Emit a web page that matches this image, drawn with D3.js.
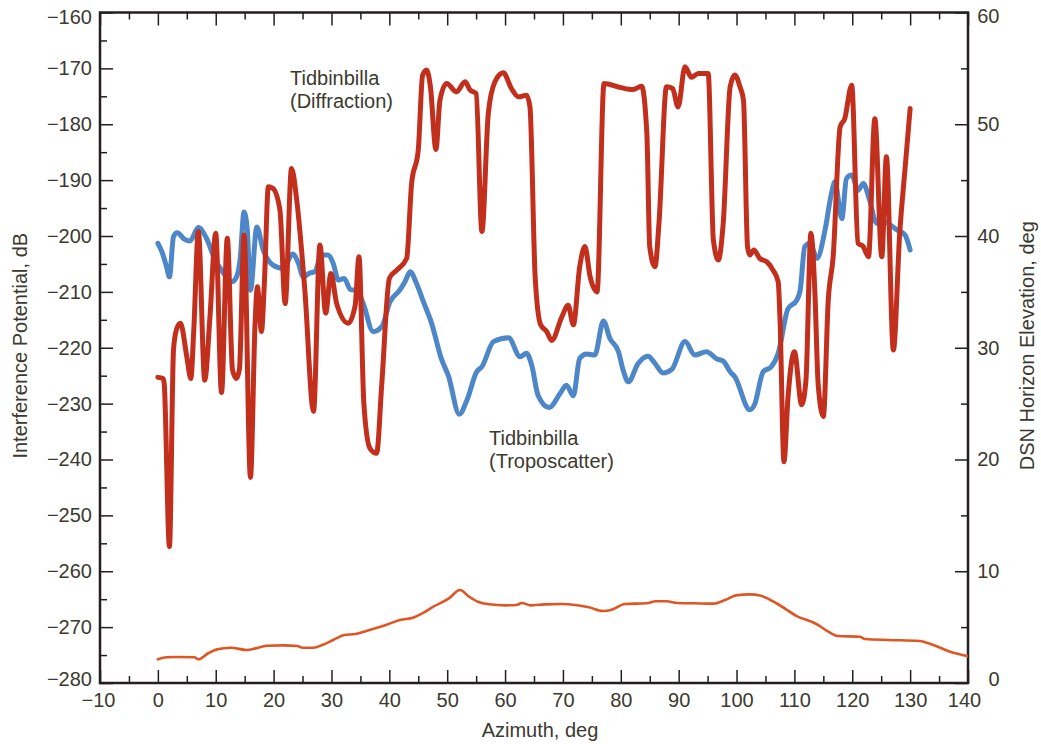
<!DOCTYPE html>
<html>
<head>
<meta charset="utf-8">
<script src="https://cdn.jsdelivr.net/npm/d3@7/dist/d3.min.js"></script>
<style>
  html, body { margin: 0; padding: 0; background: #ffffff; }
  svg { display: block; }
  text { font-family: "Liberation Sans", Arial, Helvetica, sans-serif; fill: #3b3a2f; }
</style>
</head>
<body>
<svg id="chart" width="1041" height="744"></svg>
<script>
// ---------- DATA ----------
const leftTicks = [-160, -170, -180, -190, -200, -210, -220, -230, -240, -250, -260, -270, -280];
const rightTicks = [0, 10, 20, 30, 40, 50, 60];
const bottomTicks = [-10, 0, 10, 20, 30, 40, 50, 60, 70, 80, 90, 100, 110, 120, 130, 140];

// Tidbinbilla (Diffraction) — azimuth (deg) / interference potential (dB)
const diffAz = [0, 0.9, 1.1, 2.0, 2.7, 3.2, 3.9, 5.0, 5.7, 6.2, 7.0, 8.1, 9.0, 10.0, 11.0, 12.0, 12.9, 13.6, 14.1, 14.9,
  16.0, 16.8, 17.2, 17.9, 18.4, 19.1, 19.9, 21.1, 22.0, 23.1, 24.0, 25.4, 26.9, 28.0, 29.0, 29.9, 30.9, 32.9, 34.1, 34.75,
  35.6, 36.65, 37.8, 38.7, 40.0, 41.3, 43.0, 43.85, 45.0, 45.75, 46.45, 47.1, 48.05, 48.75, 49.9, 51.6, 53.1, 53.9, 55.0, 56.0,
  57.1, 58.25, 59.7, 61.1, 62.3, 63.7, 64.3, 65.2, 66.15, 67.2, 68.05, 69.8, 70.9, 71.8, 72.9, 73.8, 74.7, 75.9, 77.1, 79.85,
  82.1, 83.6, 84.5, 85.0, 85.9, 86.6, 87.9, 88.95, 89.9, 91.1, 92.2, 93.4, 95.1, 96.0, 96.85, 97.7, 98.9, 99.7, 100.6, 101.2,
  101.9, 102.3, 103.0, 104.0, 105.2, 106.3, 107.2, 107.5, 108.2, 108.9, 110.0, 111.25, 112.0, 112.85, 113.55, 114.1, 115.0, 115.85, 116.7, 117.9,
  118.7, 119.9, 121.0, 121.9, 122.8, 123.9, 125.1, 125.9, 127.1, 128.2, 129.1, 130.0];
const diffDb = [-225.3, -225.5, -226.5, -255.6, -220.4, -216.8, -215.6, -221.6, -225.5, -217.0, -199.2, -225.8, -214.5, -199.5, -228.0, -200.4, -224.0, -225.5, -223.8, -199.8,
  -243.2, -215.6, -209.1, -217.1, -208.5, -191.2, -191.5, -195.4, -212.1, -187.9, -193.6, -209.7, -231.4, -201.6, -213.8, -206.7, -212.1, -215.6, -212.4, -203.7,
  -230.0, -238.0, -238.9, -226.4, -207.6, -206.1, -204.0, -190.6, -184.6, -171.2, -170.3, -173.3, -184.5, -175.7, -172.7, -174.2, -172.4, -173.8, -174.5, -199.2,
  -178.1, -172.4, -170.8, -173.6, -175.1, -174.8, -176.9, -207.3, -215.9, -217.1, -218.7, -214.5, -212.4, -215.9, -205.5, -201.9, -207.3, -210.0, -172.7, -173.4,
  -173.8, -173.2, -181.6, -201.9, -205.5, -197.7, -173.3, -173.6, -176.9, -169.7, -171.6, -170.9, -170.9, -200.7, -204.3, -197.7, -173.3, -171.2, -173.3, -175.7,
  -201.9, -203.4, -202.5, -204.0, -204.6, -206.1, -208.2, -214.5, -240.4, -228.8, -220.7, -230.2, -225.8, -199.5, -210.3, -226.4, -232.3, -211.5, -203.7, -180.5,
  -179.0, -173.0, -201.3, -201.9, -203.7, -179.0, -203.7, -185.8, -220.4, -199.5, -188.2, -177.2];

// Tidbinbilla (Troposcatter)
const tropoAz = [0, 0.8, 1.5, 2.0, 2.7, 3.35, 4.5, 5.55, 7.0, 8.4, 9.9, 11.0, 12.75, 13.6, 14.2, 14.9, 15.45, 16.0, 17.1, 18.2,
  19.9, 21.7, 23.3, 24.3, 25.1, 26.3, 27.1, 28.3, 29.4, 30.3, 31.2, 32.2, 33.3, 34.4, 35.5, 37.2, 38.7, 40.1, 41.8, 42.7,
  43.6, 44.7, 45.9, 47.3, 49.0, 50.2, 52.1, 53.4, 55.1, 56.0, 58.0, 60.6, 62.6, 63.7, 64.6, 65.7, 67.6, 69.5, 70.6, 71.8,
  72.9, 74.1, 75.5, 77.0, 78.1, 79.6, 80.4, 81.3, 83.0, 84.7, 85.9, 87.3, 88.8, 91.1, 92.8, 94.8, 96.6, 97.7, 98.9, 99.7,
  102.3, 103.1, 104.6, 106.0, 107.2, 108.9, 110.4, 111.0, 111.8, 112.7, 113.9, 115.3, 116.4, 117.0, 118.2, 119.0, 119.9, 121.0, 121.9, 123.0,
  124.2, 125.5, 127.7, 129.1, 130.0];
const tropoDb = [-201.3, -203.1, -205.5, -207.3, -200.1, -199.4, -200.5, -200.9, -198.5, -200.4, -204.3, -206.1, -208.2, -207.3, -204.3, -195.7, -198.9, -209.7, -198.4, -202.5,
  -205.2, -205.8, -203.2, -204.9, -207.3, -206.6, -206.4, -203.4, -203.4, -204.9, -207.9, -207.6, -209.6, -209.7, -212.1, -217.1, -216.2, -211.8, -209.7, -208.2,
  -206.4, -208.5, -211.8, -215.6, -222.0, -225.0, -231.9, -229.4, -224.3, -223.4, -218.9, -218.2, -221.6, -221.0, -223.1, -228.5, -230.7, -228.2, -226.7, -228.6,
  -221.9, -221.1, -221.3, -215.2, -218.3, -220.7, -224.0, -226.1, -222.8, -221.5, -222.8, -224.5, -223.9, -218.9, -221.3, -220.7, -222.0, -222.4, -224.3, -225.2,
  -231.1, -230.2, -224.3, -223.4, -221.0, -213.0, -211.5, -209.7, -201.9, -201.3, -204.0, -198.9, -192.4, -190.3, -196.9, -189.7, -189.1, -191.8, -190.6, -193.6,
  -197.7, -197.5, -198.9, -199.8, -202.5];

// DSN horizon elevation (deg)
const elevAz = [0, 1.5, 3.4, 6.3, 7.0, 8.7, 10.2, 12.6, 15.4, 16.9, 18.8, 21.7, 24.1, 25.0, 26.9, 28.4, 30.3, 32.2, 34.1, 35.6,
  37.0, 39.4, 41.8, 44.2, 45.7, 47.6, 50.3, 52.2, 53.8, 55.3, 57.2, 60.1, 62.0, 62.9, 64.4, 66.8, 69.7, 72.5, 74.5, 76.9,
  78.3, 80.7, 84.5, 86.0, 87.9, 89.8, 92.7, 96.0, 98.0, 99.9, 102.3, 104.2, 107.1, 110.4, 113.8, 115.7, 117.6, 121.3, 122.2, 126.3,
  131.6, 134.0, 136.9, 140.0];
const elevDeg = [2.12, 2.3, 2.33, 2.3, 2.12, 2.66, 3.01, 3.16, 2.95, 3.10, 3.34, 3.37, 3.31, 3.16, 3.16, 3.40, 3.85, 4.29, 4.38, 4.59,
  4.80, 5.19, 5.64, 5.87, 6.23, 6.83, 7.57, 8.32, 7.72, 7.27, 7.04, 6.95, 6.98, 7.16, 6.95, 7.04, 7.07, 6.95, 6.77, 6.44,
  6.53, 7.07, 7.13, 7.31, 7.31, 7.16, 7.13, 7.10, 7.42, 7.84, 7.93, 7.81, 7.07, 5.99, 5.28, 4.65, 4.20, 4.14, 3.94, 3.85,
  3.76, 3.40, 2.80, 2.40];

// ---------- LAYOUT ----------
const svg = d3.select("#chart");
const L = 100, R = 968, T = 12.5, B = 683;
const ink = "#231f20";
const textCol = "#3b3a2f";

const x = d3.scaleLinear().domain([-10, 140]).range([L, R]);
const yL = d3.scaleLinear().domain([-280, -160]).range([B, T]);
const yR = d3.scaleLinear().domain([0, 60]).range([B, T]);

const fmt = d3.format("d");

// minor ticks
const minorX = d3.range(-10, 141, 5).filter(v => v % 10 !== 0);
const minorL = d3.range(-280, -159, 5).filter(v => v % 10 !== 0);

function tickStyle(g) {
  g.select(".domain").remove();
  g.selectAll("line").attr("stroke", ink).attr("stroke-width", 1.5);
  g.selectAll("text").attr("font-size", 20).attr("fill", textCol)
    .attr("font-family", '"Liberation Sans", Arial, sans-serif');
}

// Bottom axis
svg.append("g").attr("transform", `translate(0,${B})`)
  .call(d3.axisBottom(x).tickValues(bottomTicks).tickFormat(fmt).tickSizeInner(-13).tickSizeOuter(0).tickPadding(10))
  .call(tickStyle)
  .call(g => g.selectAll(".tick text").attr("dx", d => d === 140 ? -4 : (d === -10 ? -2 : 0)));
svg.append("g").attr("transform", `translate(0,${B})`)
  .call(d3.axisBottom(x).tickValues(minorX).tickFormat("").tickSizeInner(-7).tickSizeOuter(0))
  .call(tickStyle);
// Top axis
svg.append("g").attr("transform", `translate(0,${T})`)
  .call(d3.axisTop(x).tickValues(bottomTicks).tickFormat("").tickSizeInner(-13).tickSizeOuter(0))
  .call(tickStyle);
svg.append("g").attr("transform", `translate(0,${T})`)
  .call(d3.axisTop(x).tickValues(minorX).tickFormat("").tickSizeInner(-7).tickSizeOuter(0))
  .call(tickStyle);
// Left axis
svg.append("g").attr("transform", `translate(${L},0)`)
  .call(d3.axisLeft(yL).tickValues(leftTicks).tickFormat(fmt).tickSizeInner(-13).tickSizeOuter(0).tickPadding(8))
  .call(tickStyle)
  .call(g => g.selectAll(".tick text").attr("dy", d => d === -160 ? "0.55em" : (d === -280 ? "0.1em" : "0.32em")));
svg.append("g").attr("transform", `translate(${L},0)`)
  .call(d3.axisLeft(yL).tickValues(minorL).tickFormat("").tickSizeInner(-7).tickSizeOuter(0))
  .call(tickStyle);
// Right axis (ticks at every 5 deg; labels every 10)
const rightMinor = d3.range(5, 60, 10);
svg.append("g").attr("transform", `translate(${R},0)`)
  .call(d3.axisRight(yR).tickValues(rightTicks).tickFormat(fmt).tickSizeInner(-13).tickSizeOuter(0).tickPadding(8))
  .call(tickStyle)
  .call(g => g.selectAll(".tick text").attr("text-anchor", "end").attr("x", 31.5)
    .attr("dy", d => d === 60 ? "0.5em" : (d === 0 ? "0.12em" : "0.32em")));
svg.append("g").attr("transform", `translate(${R},0)`)
  .call(d3.axisRight(yR).tickValues(rightMinor).tickFormat("").tickSizeInner(-7).tickSizeOuter(0))
  .call(tickStyle);

// Frame
svg.append("rect").attr("x", L).attr("y", T).attr("width", R - L).attr("height", B - T)
  .attr("fill", "none").attr("stroke", ink).attr("stroke-width", 2.5);

// ---------- LINES ----------
const clip = svg.append("clipPath").attr("id", "plotclip")
  .append("rect").attr("x", L).attr("y", T).attr("width", R - L).attr("height", B - T);

const lineL = d3.line().x(d => x(d[0])).y(d => yL(d[1])).curve(d3.curveMonotoneX);
const lineR = d3.line().x(d => x(d[0])).y(d => yR(d[1])).curve(d3.curveMonotoneX);

const elevData = d3.zip(elevAz, elevDeg);
const tropoData = d3.zip(tropoAz, tropoDb);
const diffData = d3.zip(diffAz, diffDb);

const gLines = svg.append("g").attr("clip-path", "url(#plotclip)");
gLines.append("path").datum(elevData).attr("d", lineR)
  .attr("fill", "none").attr("stroke", "#e05623").attr("stroke-width", 2.6)
  .attr("stroke-linejoin", "round").attr("stroke-linecap", "round");
gLines.append("path").datum(tropoData).attr("d", lineL)
  .attr("fill", "none").attr("stroke", "#4d87c7").attr("stroke-width", 5)
  .attr("stroke-linejoin", "round").attr("stroke-linecap", "round");
gLines.append("path").datum(diffData).attr("d", lineL)
  .attr("fill", "none").attr("stroke", "#c22f1d").attr("stroke-width", 5)
  .attr("stroke-linejoin", "round").attr("stroke-linecap", "round");

// ---------- TEXT ----------
const fontFam = '"Liberation Sans", Arial, sans-serif';
function label(xp, yp, lines) {
  const t = svg.append("text").attr("x", xp).attr("y", yp).attr("font-size", 20)
    .attr("font-family", fontFam).attr("fill", textCol);
  lines.forEach((s, i) => t.append("tspan").attr("x", xp).attr("dy", i === 0 ? 0 : 23.5).text(s));
}
label(290, 84.5, ["Tidbinbilla", "(Diffraction)"]);
label(489, 444.5, ["Tidbinbilla", "(Troposcatter)"]);

svg.append("text").attr("x", (L + R) / 2 + 6).attr("y", 737).attr("text-anchor", "middle")
  .attr("font-size", 20).attr("font-family", fontFam).attr("fill", textCol).text("Azimuth, deg");
svg.append("text").attr("transform", `translate(27,${(T + B) / 2 - 2}) rotate(-90)`).attr("text-anchor", "middle")
  .attr("font-size", 20).attr("font-family", fontFam).attr("fill", textCol).text("Interference Potential, dB");
svg.append("text").attr("transform", `translate(1034,${(T + B) / 2 - 2}) rotate(-90)`).attr("text-anchor", "middle")
  .attr("font-size", 20).attr("font-family", fontFam).attr("fill", textCol).text("DSN Horizon Elevation, deg");
</script>
</body>
</html>
